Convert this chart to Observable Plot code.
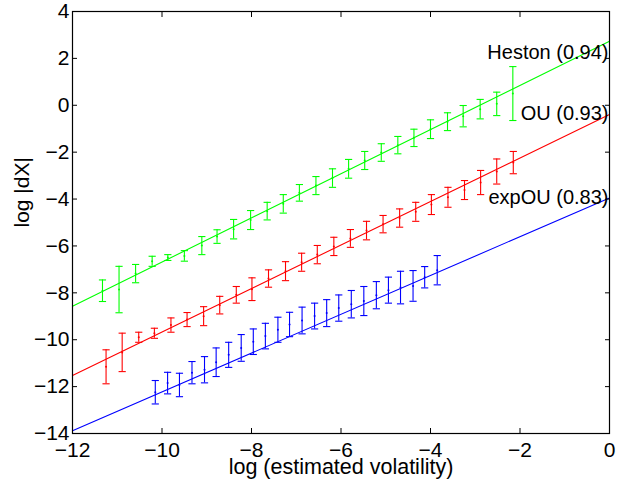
<!DOCTYPE html>
<html><head><meta charset="utf-8">
<script src="https://cdn.jsdelivr.net/npm/d3@7"></script>
<script src="https://cdn.jsdelivr.net/npm/@observablehq/plot@0.6"></script>
<style>body{margin:0;background:#fff;}</style>
</head><body><div id="chart"></div>
<script>
// Heston (green)
const hestonX  = [-11.33,-10.96,-10.59,-10.22,-9.87,-9.50,-9.11,-8.77,-8.40,-8.02,-7.65,-7.29,-6.93,-6.56,-6.19,-5.83,-5.47,-5.10,-4.73,-4.37,-4.00,-3.62,-3.27,-2.89,-2.52,-2.16];
const hestonLo = [-8.37,-8.85,-7.57,-6.87,-6.62,-6.65,-6.37,-5.89,-5.70,-5.30,-4.89,-4.60,-4.09,-3.81,-3.50,-3.11,-2.74,-2.39,-2.07,-1.76,-1.42,-1.08,-0.92,-0.58,-0.44,-0.65];
const hestonHi = [-7.45,-6.87,-6.79,-6.44,-6.37,-6.20,-5.60,-5.31,-4.87,-4.49,-4.14,-3.81,-3.38,-3.04,-2.71,-2.31,-1.97,-1.64,-1.33,-1.02,-0.62,-0.32,-0.01,0.25,0.56,1.65];
// OU (red)
const ouX  = [-11.25,-10.89,-10.52,-10.17,-9.80,-9.44,-9.07,-8.71,-8.34,-7.99,-7.62,-7.24,-6.88,-6.53,-6.16,-5.79,-5.43,-5.06,-4.69,-4.33,-3.98,-3.61,-3.24,-2.88,-2.52,-2.15];
const ouLo = [-11.88,-11.36,-10.11,-9.94,-9.68,-9.44,-9.40,-8.90,-8.44,-8.33,-7.76,-7.48,-7.08,-6.76,-6.41,-6.06,-5.74,-5.44,-5.20,-4.95,-4.66,-4.35,-4.02,-3.81,-3.36,-2.92];
const ouHi = [-10.43,-9.72,-9.68,-9.51,-9.07,-8.84,-8.59,-8.15,-7.73,-7.36,-7.02,-6.67,-6.31,-5.98,-5.63,-5.30,-4.95,-4.70,-4.42,-4.14,-3.81,-3.50,-3.21,-2.78,-2.29,-1.97];
// expOU (blue)
const expouX  = [-10.15,-9.875,-9.61,-9.33,-9.05,-8.79,-8.51,-8.23,-7.96,-7.69,-7.41,-7.15,-6.87,-6.59,-6.32,-6.05,-5.77,-5.49,-5.21,-4.94,-4.67,-4.39,-4.13,-3.85];
const expouLo = [-12.74,-12.31,-12.43,-11.88,-11.84,-11.57,-11.18,-10.92,-10.63,-10.39,-10.11,-9.87,-9.75,-9.54,-9.44,-9.21,-9.07,-8.97,-8.68,-8.44,-8.47,-8.36,-7.79,-7.66];
const expouHi = [-11.74,-11.39,-11.43,-10.93,-10.72,-10.35,-10.11,-9.78,-9.54,-9.30,-9.04,-8.83,-8.61,-8.44,-8.29,-8.09,-7.90,-7.73,-7.52,-7.33,-7.08,-7.05,-6.88,-6.41];
// Fitted lines (endpoints at x = -12 and x = 0)
const fitX = [-12, 0];
const hestonFit = [-8.57, 2.73];
const ouFit = [-11.53, -0.39];
const expouFit = [-13.88, -3.95];
// Annotations
const labelText = ["Heston (0.94)", "OU (0.93)", "expOU (0.83)"];
const labelY = [2.26, -0.35, -3.92];
const labelX = [0, 0, 0];
// Ticks
const xTicks = [-12, -10, -8, -6, -4, -2, 0];
const yTicks = [4, 2, 0, -2, -4, -6, -8, -10, -12, -14];

const FONT = "'Liberation Sans', Arial, Helvetica, sans-serif";

function rows(xs, lo, hi) {
  return xs.map((x, i) => ({x, lo: lo[i], hi: hi[i], mid: (lo[i] + hi[i]) / 2}));
}
function fitRows(ys) { return fitX.map((x, i) => ({x, y: ys[i]})); }

const cap = {draw(ctx, size) { const r = Math.sqrt(size / Math.PI); ctx.moveTo(-r, 0); ctx.lineTo(r, 0); }};

function errMarks(data, color) {
  return [
    Plot.ruleX(data, {x: "x", y1: "lo", y2: "hi", stroke: color, strokeWidth: 1.1}),
    Plot.dot(data, {x: "x", y: "lo", symbol: cap, r: 3.6, stroke: color, strokeWidth: 1.1, fill: "none"}),
    Plot.dot(data, {x: "x", y: "hi", symbol: cap, r: 3.6, stroke: color, strokeWidth: 1.1, fill: "none"}),
    Plot.dot(data, {x: "x", y: "mid", r: 1, fill: color, stroke: "none"})
  ];
}

const green = "#00ff00", red = "#ff0000", blue = "#0000ff";

const chart = Plot.plot({
  width: 620,
  height: 482,
  marginLeft: 72,
  marginRight: 11,
  marginTop: 11,
  marginBottom: 49,
  style: {fontFamily: FONT, fontSize: "21px", background: "#fff", color: "#000"},
  x: {domain: [-12, 0], ticks: xTicks},
  y: {domain: [-14, 4], ticks: yTicks},
  marks: [
    Plot.line(fitRows(hestonFit), {x: "x", y: "y", stroke: green, strokeWidth: 1.1}),
    Plot.line(fitRows(ouFit), {x: "x", y: "y", stroke: red, strokeWidth: 1.1}),
    Plot.line(fitRows(expouFit), {x: "x", y: "y", stroke: blue, strokeWidth: 1.1}),
    ...errMarks(rows(hestonX, hestonLo, hestonHi), green),
    ...errMarks(rows(ouX, ouLo, ouHi), red),
    ...errMarks(rows(expouX, expouLo, expouHi), blue),
    Plot.text(labelText, {x: (d, i) => labelX[i], y: (d, i) => labelY[i], text: d => d, textAnchor: "end", dx: -1, fontSize: 20, fill: "#000"}),
    Plot.axisX({anchor: "bottom", ticks: xTicks, tickSize: -5, fill: "none", label: null}),
    Plot.axisX({anchor: "top", ticks: xTicks, tickSize: -5, fill: "none", label: null}),
    Plot.axisY({anchor: "left", ticks: yTicks, tickSize: -5, fill: "none", label: null}),
    Plot.axisY({anchor: "right", ticks: yTicks, tickSize: -5, fill: "none", label: null}),
    Plot.axisX({anchor: "bottom", ticks: xTicks, tickSize: 0, tickPadding: 9, label: null}),
    Plot.axisY({anchor: "left", ticks: yTicks, tickSize: 0, tickPadding: 3, label: null}),
    Plot.frame({stroke: "#000", strokeWidth: 1.2}),
    Plot.text(["log (estimated volatility)"], {frameAnchor: "bottom", text: d => d, dy: 40, fontSize: 21.5, fill: "#000"}),
    Plot.text(["log |dX|"], {frameAnchor: "left", text: d => d, rotate: -90, dx: -50, dy: 5, fontSize: 21, fill: "#000"})
  ]
});
document.getElementById("chart").appendChild(chart);
</script>
</body></html>
